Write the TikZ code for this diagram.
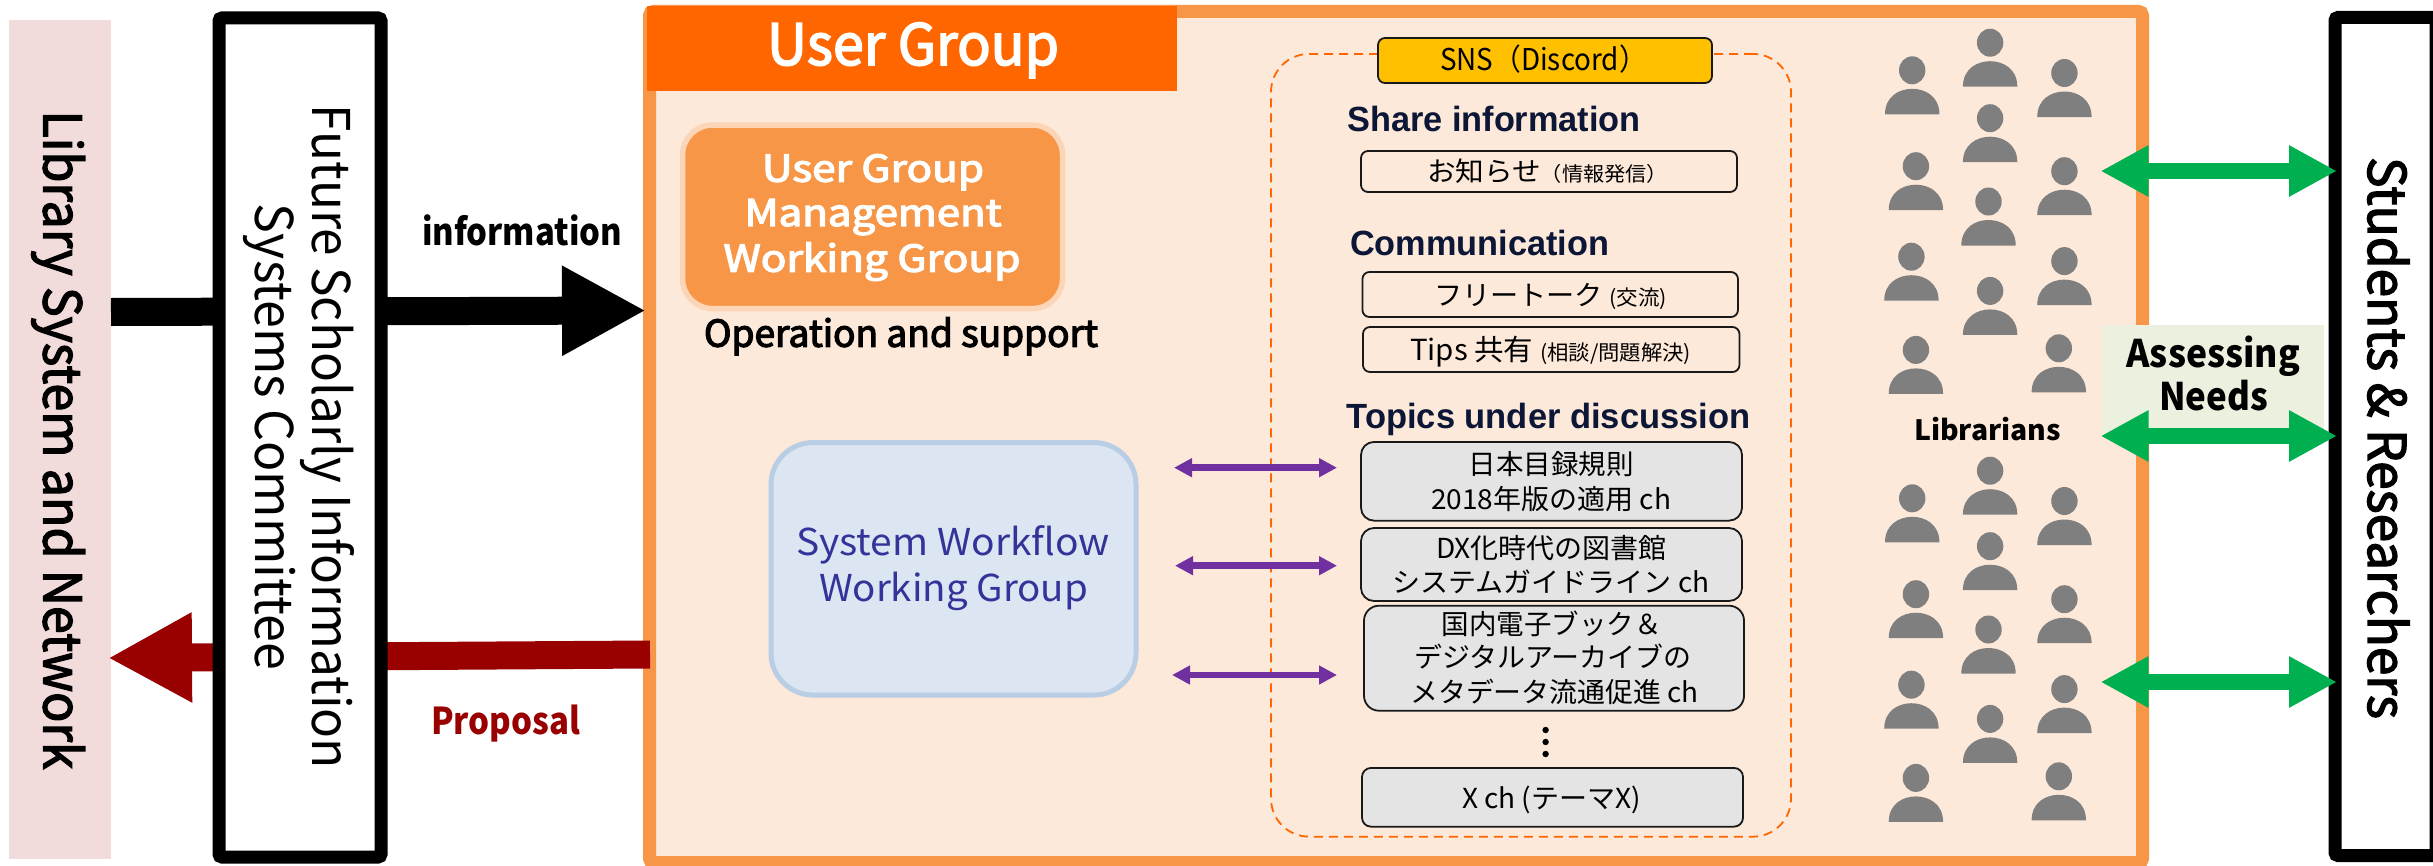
\documentclass[tikz,border=0pt]{standalone}
\usepackage{fontspec}
\usepackage{graphicx}
\usetikzlibrary{arrows.meta}
\newfontfamily\jp{Noto Sans CJK JP}
\newcommand\jpb{\jp\bfseries}
\newcommand\twpre{}
\newcommand\twpost{}
\newcommand\jpm[1]{\jp\def\twpre{\special{pdf:code 2 Tr #1 w}}\def\twpost{\special{pdf:code 0 Tr 1 w}}}
\newfontfamily\arb{Liberation Sans Bold}
\definecolor{frameor}{HTML}{F79646}
\definecolor{framebg}{HTML}{FDE9D9}
\definecolor{heador}{HTML}{FF6600}
\definecolor{pinkbg}{HTML}{F2DCDB}
\definecolor{wgborder}{HTML}{FBD5B5}
\definecolor{sysfill}{HTML}{DCE6F2}
\definecolor{sysline}{HTML}{B9CDE5}
\definecolor{systext}{HTML}{333399}
\definecolor{darkred}{HTML}{990000}
\definecolor{purp}{HTML}{7030A0}
\definecolor{grn}{HTML}{00B050}
\definecolor{needbg}{HTML}{EBF1DE}
\definecolor{persongray}{HTML}{7F7F7F}
\definecolor{navy}{HTML}{0C1636}
\definecolor{snsfill}{HTML}{FFC000}
\definecolor{topicfill}{HTML}{E4E4E4}
\newcommand\tw[2]{\sbox0{#2}\pgfmathsetmacro\twr{1.00375*#1/\the\wd0}\twpre\scalebox{\twr}[1]{\usebox0}\twpost}
\newcommand\lbl[7][]{\node[anchor=base,inner sep=0pt,outer sep=0pt,#1] (#2) at (#3,#4) {#5\fontsize{#6bp}{#6bp}\selectfont\tw#7};}
\tikzset{
  chbox/.style={draw=black!90,line width=1.8bp,rounded corners=7bp,inner sep=0pt,outer sep=0pt},
  topicbox/.style={chbox,fill=topicfill,rounded corners=13bp},
  bigarrow/.style={line width=28bp,-{Triangle[length=84bp,width=84bp]}},
  purparrow/.style={purp,line width=6.5bp,{Triangle[length=18bp,width=18bp]}-{Triangle[length=18bp,width=18bp]}},
  grnarrow/.style={grn,line width=16.5bp,{Triangle[length=48bp,width=48bp]}-{Triangle[length=48bp,width=48bp]}}
}
\begin{document}
\begin{tikzpicture}[x=1bp,y=-1bp]
\path[use as bounding box,clip] (0,0) rectangle (2433,865);
\fill[white] (0,0) rectangle (2433,865);
% frame
\node[draw=frameor,fill=framebg,line width=13bp,rounded corners=4bp,inner sep=0pt,outer sep=0pt,minimum width=1493bp,minimum height=851bp] (frame) at (1396,437) {};
\node[fill=heador,inner sep=0pt,outer sep=0pt,minimum width=530bp,minimum height=85bp] (head) at (912,48.5) {};
\lbl{headt}{913}{65}{\jpm{1.6}\color{white}}{57}{{292}{User Group}}
% left pink
\node[fill=pinkbg,inner sep=0pt,outer sep=0pt,minimum width=102bp,minimum height=839bp] (lib) at (60,439.5) {};
\lbl[rotate=-90]{libt}{43.5}{440}{\jpm{1.3}}{52}{{659}{Library System and Network}}
% big arrows
\coordinate (bs) at (111,312);
\coordinate (be) at (646,310.5);
\coordinate (rs) at (650,654.5);
\coordinate (re) at (108,658);
\draw[bigarrow,black] (bs) -- (be);
\draw[bigarrow,darkred] (rs) -- (re);
% committee
\node[draw=black,fill=white,line width=13bp,rounded corners=3bp,inner sep=0pt,outer sep=0pt,minimum width=162bp,minimum height=839bp] (comm) at (300,437.5) {};
\lbl[rotate=-90]{commt1}{312.5}{437}{\jp}{52}{{664}{Future Scholarly Information}}
\lbl[rotate=-90]{commt2}{255}{437}{\jp}{52}{{466}{Systems Committee}}
\lbl{info}{522}{245.5}{\jpb}{37}{{200}{information}}
\lbl{prop}{505.5}{734.7}{\jpb\color{darkred}}{37}{{149}{Proposal}}
% management WG
\node[draw=wgborder,fill=frameor,line width=5.5bp,rounded corners=30bp,inner sep=0pt,outer sep=0pt,minimum width=380bp,minimum height=183.5bp] (mgmt) at (872.5,216.8) {};
\lbl{mg1}{873}{181.7}{\jpm{1.2}\color{white}}{37}{{222}{User Group}}
\lbl{mg2}{873}{226}{\jpm{1.2}\color{white}}{37}{{257}{Management}}
\lbl{mg3}{872}{271.7}{\jpm{1.2}\color{white}}{37}{{297}{Working Group}}
\lbl{oper}{901}{346.7}{\jpm{1.2}}{37}{{394}{Operation and support}}
% system WG
\node[draw=sysline,fill=sysfill,line width=5bp,rounded corners=42bp,inner sep=0pt,outer sep=0pt,minimum width=365bp,minimum height=252.5bp] (sys) at (953.5,568.8) {};
\lbl{sy1}{953}{555}{\jp\color{systext}}{37}{{314}{System Workflow}}
\lbl{sy2}{953.5}{601.7}{\jp\color{systext}}{37}{{269}{Working Group}}
% dashed
\node[draw=heador,dash pattern=on 9bp off 6bp,line width=1.8bp,rounded corners=38bp,inner sep=0pt,outer sep=0pt,minimum width=520bp,minimum height=782.7bp] (dash) at (1531,445.3) {};
% purple arrows
\coordinate (p1l) at (1174,467.7);\coordinate (p1r) at (1337,467.7);
\coordinate (p2l) at (1175,565.7);\coordinate (p2r) at (1337,565.7);
\coordinate (p3l) at (1172,675);\coordinate (p3r) at (1337,675);
\draw[purparrow] (p1l) -- (p1r);
\draw[purparrow] (p2l) -- (p2r);
\draw[purparrow] (p3l) -- (p3r);
% SNS
\node[chbox,fill=snsfill,minimum width=334bp,minimum height=45bp] (sns) at (1545,60.5) {};
\lbl{snst}{1543.5}{70.7}{\jp}{30}{{207}{SNS（Discord）}}
\lbl{hd1}{1494}{131.7}{\arb\color{navy}}{35}{{293.6}{Share information}}
\node[chbox,minimum width=376bp,minimum height=41bp] (b1) at (1549,171.5) {};
\lbl{b1t}{1547.5}{181}{\jp}{27}{{241}{お知らせ{\fontsize{20bp}{20bp}\selectfont（情報発信）}}}
\lbl{hd2}{1479.5}{255}{\arb\color{navy}}{35}{{259}{Communication}}
\node[chbox,minimum width=375.5bp,minimum height=45bp] (b2) at (1550.2,294.5) {};
\lbl{b2t}{1550.5}{305}{\jp}{27.5}{{233}{フリートーク {\fontsize{21bp}{21bp}\selectfont(交流)}}}
\node[chbox,minimum width=376.5bp,minimum height=45bp] (b3) at (1551.2,349.5) {};
\lbl{b3t}{1550.5}{360}{\jp}{29}{{281}{Tips 共有 {\fontsize{21bp}{21bp}\selectfont(相談/問題解決)}}}
\lbl{hd3}{1548.5}{428.3}{\arb\color{navy}}{35}{{404}{Topics under discussion}}
% topics
\node[topicbox,minimum width=381bp,minimum height=78.7bp] (t1) at (1551.5,481.3) {};
\lbl{t1a}{1551}{474}{\jp}{27.5}{{165}{日本目録規則}}
\lbl{t1b}{1551}{509}{\jp}{27.5}{{240}{2018年版の適用 ch}}
\node[topicbox,minimum width=381bp,minimum height=73bp] (t2) at (1551.5,564.5) {};
\lbl{t2a}{1551.5}{558}{\jp}{27.5}{{231}{DX化時代の図書館}}
\lbl{t2b}{1551}{592}{\jp}{27.5}{{317}{システムガイドライン ch}}
\node[topicbox,rounded corners=15bp,minimum width=380bp,minimum height=105bp] (t3) at (1554,658.2) {};
\lbl{t3a}{1551.5}{634}{\jp}{27.5}{{220}{国内電子ブック＆}}
\lbl{t3b}{1553}{667}{\jp}{27.5}{{277.5}{デジタルアーカイブの}}
\lbl{t3c}{1554.5}{702}{\jp}{27.5}{{288.6}{メタデータ流通促進 ch}}
\fill (1545.6,730) circle (3.2bp) (1545.6,742) circle (3.2bp) (1545.6,754) circle (3.2bp);
\node[topicbox,rounded corners=9bp,minimum width=381bp,minimum height=58.7bp] (t4) at (1552.5,797.3) {};
\lbl{t4t}{1551.5}{808}{\jp}{27.5}{{179}{X ch (テーマX)}}
% persons
\foreach \dy in {0,428}{
\foreach \px/\py in {1912.2/56.3,1990.1/28.7,2064.4/59,1990.1/104.2,1915.9/152.2,2064.4/157.2,1988.5/187.5,1911.4/242.7,2064.4/247.1,1990.1/276.9,1915.9/335.9,2058.8/334.3}{
\begin{scope}[shift={(\px,\py+\dy)}]
\fill[persongray] (0,14) ellipse (13.2bp and 14bp);
\fill[persongray] (-27.2,58) .. controls (-27.2,40) and (-13,32.5) .. (0,32.5) .. controls (13,32.5) and (27.2,40) .. (27.2,58) -- cycle;
\end{scope}
}}
\lbl{libr}{1987.5}{440}{\jpb}{28}{{147}{Librarians}}
% needs
\node[fill=needbg,inner sep=0pt,outer sep=0pt,minimum width=222.4bp,minimum height=110.6bp] (need) at (2212.8,380.7) {};
\lbl{need1}{2213}{367}{\jpb}{38}{{174}{Assessing}}
\lbl{need2}{2213.5}{410}{\jpb}{38}{{109}{Needs}}
% right box
\node[draw=black,fill=white,line width=13bp,rounded corners=3bp,inner sep=0pt,outer sep=0pt,minimum width=101bp,minimum height=838bp] (stud) at (2385.5,436.5) {};
\lbl[rotate=-90]{studt}{2368}{438}{\jpm{1.3}}{52}{{562}{Students \& Researchers}}
% green arrows
\coordinate (g1l) at (2100.5,171);\coordinate (g1r) at (2337,171);
\coordinate (g2l) at (2100.5,436);\coordinate (g2r) at (2337,436);
\coordinate (g3l) at (2100.5,682);\coordinate (g3r) at (2337,682);
\draw[grnarrow] (g1l) -- (g1r);
\draw[grnarrow] (g2l) -- (g2r);
\draw[grnarrow] (g3l) -- (g3r);
\end{tikzpicture}
\end{document}
